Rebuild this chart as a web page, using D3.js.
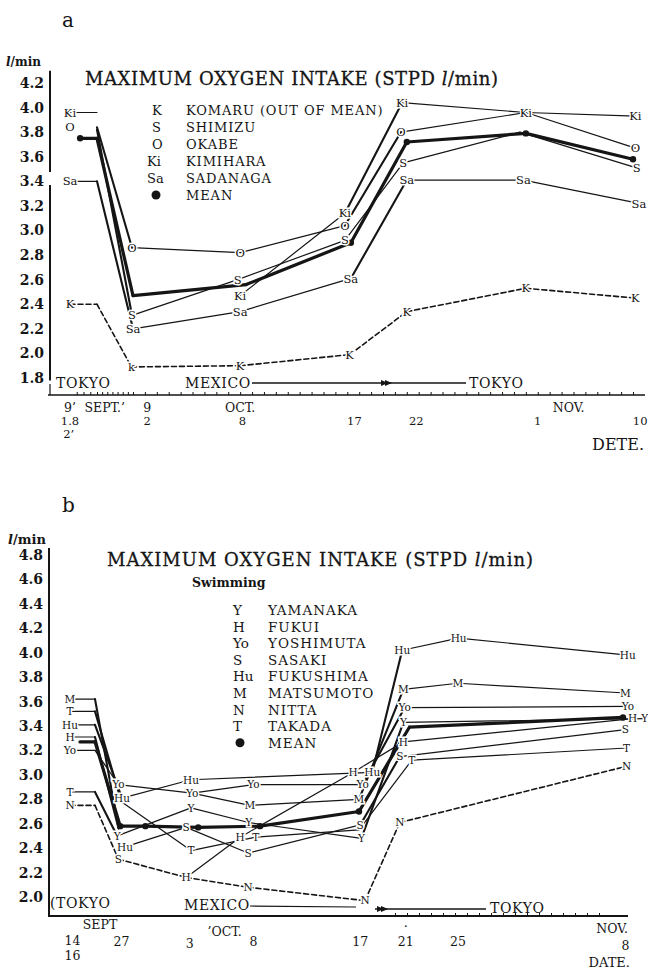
<!DOCTYPE html>
<html><head><meta charset="utf-8">
<script src="https://cdn.jsdelivr.net/npm/d3@7"></script>
<style>
body{margin:0;background:#fff;}
svg{display:block;background:#fff;}
</style></head><body>
<svg id="c" width="648" height="970"></svg>
<script>
// ================= DATA : panel a (days counted from Oct 1) =================
const aYTicks=[1.8,2.0,2.2,2.4,2.6,2.8,3.0,3.2,3.4,3.6,3.8,4.0,4.2];
const aK_days=[-13,-9,-2.3,7,16.2,21,31,40.2];
const aK_vals=[2.40,2.40,1.89,1.90,1.99,2.34,2.53,2.45];
const aK_labs=["K","","k","K","K","K","K","K"];
const aS_days=[-9,-2.2,6.8,15.8,20.7,30.5,40.3];
const aS_vals=[3.82,2.31,2.60,2.92,3.55,3.80,3.51];
const aS_labs=["","S","S","S","S","","S"];
const aO_days=[-13,-11,-9,-2.2,7,15.8,20.5,31,40.2];
const aO_vals=[3.84,null,3.84,2.86,2.82,3.04,3.80,3.96,3.67];
const aO_labs=["O","","","O","O","O","O","","O"];
const aKi_days=[-13,-9,-2,7,15.8,20.6,31,40.2];
const aKi_vals=[3.96,3.96,null,2.47,3.14,4.04,3.96,3.93];
const aKi_labs=["Ki","","","Ki","Ki","Ki","Ki","Ki"];
const aSa_days=[-13,-9,-2,7,16.3,21,30.8,40.5];
const aSa_vals=[3.40,3.40,2.20,2.34,2.61,3.41,3.41,3.22];
const aSa_labs=["Sa","","Sa","Sa","Sa","Sa","Sa","Sa"];
const aMean_days=[-11.5,-9,-2,7.5,16.3,21,31,40];
const aMean_vals=[3.75,3.75,2.47,2.56,2.90,3.72,3.79,3.58];
const aMean_dots=[1,0,0,0,1,1,1,1];
const aLegendKeys=["K","S","O","Ki","Sa","●"];
const aLegendNames=["KOMARU (OUT OF MEAN)","SHIMIZU","OKABE","KIMIHARA","SADANAGA","MEAN"];
const aXLabels=[["9’",-13,0],["1.8",-13,1],["2’",-13.2,2],["SEPT.’",-7.5,0],["9",-0.8,0],["2",-0.8,1],
  ["OCT.",7,0],["8",7.2,1],["17",16.6,1],["22",21.8,1],["1",32,1],["NOV.",34.6,0],["10",40.6,1]];

// ================= DATA : panel b =================
const bYTicks=[2.0,2.2,2.4,2.6,2.8,3.0,3.2,3.4,3.6,3.8,4.0,4.2,4.4,4.6,4.8];
const bY_days=[-17,-16,-4.9,2,6.8,16.2,19.7,39.8];
const bY_vals=[2.86,2.86,2.50,2.73,2.61,2.48,3.43,3.46];
const bY_labs=["T","","Y","Y","Y","Y","Y","Y"];
const bH_days=[-17,-16,-4.2,-3,1.6,6.1,15.5,19.7,38.8];
const bH_vals=[3.31,3.31,2.56,null,2.16,2.49,3.02,3.27,3.46];
const bH_labs=["H","","","","H","H","H","H","H"];
const bYo_days=[-17,-16,-4.3,2.1,7.2,16.3,19.8,38.4];
const bYo_vals=[3.20,3.20,2.92,2.85,2.92,2.92,3.55,3.56];
const bYo_labs=["Yo","","Yo","Yo","Yo","Yo","Yo","Yo"];
const bS_days=[-3.5,1.6,6.75,16.1,19.4,38.2];
const bS_vals=[2.41,2.57,2.36,2.59,3.15,3.37];
const bS_labs=["Hu","S","S","S","S","S"];
const bHu_days=[-17,-16,-3.75,2,17.1,19.6,24.3,38.4];
const bHu_vals=[3.41,3.41,2.81,2.96,3.02,4.02,4.12,3.98];
const bHu_labs=["Hu","","Hu","Hu","Hu","Hu","Hu","Hu"];
const bM_days=[-17,-16,-4.3,-3,2.1,6.9,16,19.7,24.25,38.2];
const bM_vals=[3.62,3.62,2.57,null,2.85,2.75,2.80,3.70,3.75,3.67];
const bM_labs=["M","","","","","M","M","M","M","M"];
const bN_days=[-17,-16,-4.3,1.6,6.75,16.5,19.4,38.3];
const bN_vals=[2.75,2.75,2.31,2.16,2.08,1.97,2.61,3.07];
const bN_labs=["N","","S","","N","N","N","N"];
const bT_days=[-17,-16,-3.8,2,7.4,16,20.4,38.3];
const bT_vals=[3.52,3.52,2.78,2.38,2.49,2.55,3.12,3.22];
const bT_labs=["T","","","T","T","","T","T"];
const bMean_days=[-16.6,-16,-3.9,-1.8,2.6,7.75,16,20.2,38];
const bMean_vals=[3.27,3.27,2.58,2.58,2.57,2.58,2.70,3.39,3.47];
const bMean_dots=[0,0,1,1,1,1,1,0,1];
const bLegendKeys=["Y","H","Yo","S","Hu","M","N","T","●"];
const bLegendNames=["YAMANAKA","FUKUI","YOSHIMUTA","SASAKI","FUKUSHIMA","MATSUMOTO","NITTA","TAKADA","MEAN"];
const bXLabels=[["SEPT",-13.5,929],["14",-16.9,945],["16",-16.9,960],["27",-3.8,946],["3",1.9,948],["’OCT.",4.8,936],
  ["8",7.2,946],["17",16.1,946],["21",19.9,946],["25",24.25,946],["NOV.",37.1,933],["8",38.2,950]];

// ================= RENDER =================
const F='"DejaVu Serif","Liberation Serif",serif';
const ink='#151515';
const svg=d3.select("#c");

function mk(days,vals,labs,opt){return Object.assign({days,vals,labs},opt||{});}

function drawSeries(g,x,y,series,labSize){
  const segs=[],labels=[],dots=[];
  series.forEach(s=>{
    const pts=s.days.map((d,i)=>({d,v:s.vals[i],lab:s.labs?s.labs[i]:"",dot:s.dots?s.dots[i]:0}));
    for(let i=0;i<pts.length-1;i++){
      const p=pts[i],q=pts[i+1];
      if(p.v==null||q.v==null) continue;
      const x1=x(p.d),y1=y(p.v),x2=x(q.d),y2=y(q.v);
      const steep=Math.abs(y2-y1)>1.5*Math.abs(x2-x1);
      segs.push({x1,y1,x2,y2,w:s.mean?3.2:(s.dash?1.6:(steep?2.1:1.2)),dash:s.dash||null});
    }
    pts.forEach(p=>{
      if(p.v==null) return;
      if(p.lab) labels.push({x:x(p.d),y:y(p.v),t:p.lab});
      if(p.dot) dots.push({x:x(p.d),y:y(p.v)});
    });
  });
  g.append("g").selectAll("line").data(segs).join("line")
    .attr("x1",d=>d.x1).attr("y1",d=>d.y1).attr("x2",d=>d.x2).attr("y2",d=>d.y2)
    .attr("stroke",ink).attr("stroke-width",d=>d.w).attr("stroke-linecap","round")
    .attr("stroke-dasharray",d=>d.dash);
  g.append("g").selectAll("circle").data(dots).join("circle")
    .attr("cx",d=>d.x).attr("cy",d=>d.y).attr("r",3.2).attr("fill",ink);
  g.append("g").selectAll("text").data(labels).join("text")
    .attr("x",d=>d.x).attr("y",d=>d.y).attr("dy","0.36em").attr("text-anchor","middle")
    .attr("font-family",F).attr("font-size",labSize).attr("fill",ink)
    .attr("stroke","#fff").attr("stroke-width",3).attr("paint-order","stroke")
    .text(d=>d.t);
}

function yAxis(g,y,ticks,axX){
  const gg=g.append("g").attr("transform",`translate(${axX},0)`)
    .call(d3.axisLeft(y).tickValues(ticks).tickSize(0).tickPadding(6).tickFormat(d3.format(".1f")));
  gg.select(".domain").remove();
  gg.selectAll("text").attr("font-family",F).attr("font-size",14).attr("font-weight","bold").attr("fill",ink);
}

function txt(g,x,y,t,size,opt){
  opt=opt||{};
  const e=g.append("text").attr("x",x).attr("y",y).attr("font-family",F).attr("font-size",size).attr("fill",ink)
    .attr("text-anchor",opt.anchor||"start");
  if(opt.ls) e.attr("letter-spacing",opt.ls);
  if(opt.bold) e.attr("font-weight","bold");
  e.text(t);
  return e;
}

function title(g,x,y,pre,gap,len){
  const e=g.append("text").attr("x",x).attr("y",y).attr("font-family",F).attr("font-size",18).attr("fill",ink)
    .attr("stroke",ink).attr("stroke-width",0.3)
    .attr("textLength",len).attr("lengthAdjust","spacing");
  e.append("tspan").text(pre+gap);
  e.append("tspan").attr("font-style","italic").text("l");
  e.append("tspan").text("/min)");
}

function arrow(g,x,y){
  g.append("path").attr("d",`M${x-7},${y-3}L${x},${y}L${x-7},${y+3}Z`).attr("fill",ink);
  g.append("path").attr("d",`M${x-3},${y-3}L${x+4},${y}L${x-3},${y+3}Z`).attr("fill",ink);
}

// ---------- panel a ----------
{
  const g=svg.append("g");
  const x=d3.scaleLinear().domain([-13,-9,-2,40]).range([70,97,133,633]);
  const y=d3.scaleLinear().domain([1.8,4.2]).range([378,83]);
  txt(g,62,27,"a",20);
  const lm=g.append("text").attr("x",6).attr("y",66).attr("font-family",F).attr("font-size",12).attr("font-weight","bold").attr("fill",ink);
  lm.append("tspan").attr("font-style","italic").text("l");
  lm.append("tspan").text("/min");
  yAxis(g,y,aYTicks,50);
  g.append("line").attr("x1",50).attr("x2",50).attr("y1",y(4.3)).attr("y2",172).attr("stroke",ink).attr("stroke-width",2);
  g.append("line").attr("x1",50).attr("x2",50).attr("y1",185).attr("y2",y(1.78)).attr("stroke",ink).attr("stroke-width",2);
  g.append("line").attr("x1",48).attr("x2",645).attr("y1",395).attr("y2",395).attr("stroke",ink).attr("stroke-width",1.6);
  g.append("g").attr("transform","translate(0,395)")
    .call(d3.axisTop(x).tickValues(d3.range(-12,41,1)).tickSize(3).tickFormat(""))
    .call(s=>{s.select(".domain").remove();s.selectAll("line").attr("stroke",ink).attr("stroke-width",1);});
  g.append("line").attr("x1",50).attr("x2",50).attr("y1",384).attr("y2",395).attr("stroke",ink).attr("stroke-width",1.2);
  const rowsA=[412,425,438];
  aXLabels.forEach(([t,d,r])=>txt(g,x(d),rowsA[r],t,r===0?12.5:11.5,{anchor:"middle"}));
  txt(g,644,450,"DETE.",16,{anchor:"end"});
  txt(g,56,388,"TOKYO",14,{ls:0.6});
  txt(g,185,388,"MEXICO",14,{ls:0.6});
  g.append("line").attr("x1",252).attr("x2",466).attr("y1",383).attr("y2",383).attr("stroke",ink).attr("stroke-width",1.3);
  arrow(g,388,383);
  txt(g,469,388,"TOKYO",14,{ls:0.6});
  title(g,85,85,"MAXIMUM  OXYGEN  INTAKE  (STPD  ","",413);
  aLegendKeys.forEach((k,i)=>{
    const yy=115+i*17;
    if(k==="●") g.append("circle").attr("cx",156).attr("cy",yy-5).attr("r",4.5).attr("fill",ink);
    else txt(g,k.length>1?147:152,yy,k,13);
    txt(g,186,yy,aLegendNames[i],13,{ls:0.9});
  });
  drawSeries(g,x,y,[
    mk(aK_days,aK_vals,aK_labs,{dash:"5,3"}),
    mk(aSa_days,aSa_vals,aSa_labs),
    mk(aS_days,aS_vals,aS_labs),
    mk(aO_days,aO_vals,aO_labs),
    mk(aKi_days,aKi_vals,aKi_labs),
    {days:aMean_days,vals:aMean_vals,labs:null,dots:aMean_dots,mean:true}
  ],11.5);
}

// ---------- panel b ----------
{
  const g=svg.append("g");
  const x=d3.scaleLinear().domain([-17,-16,-4,38]).range([70,95,119,623]);
  const y=d3.scaleLinear().domain([2.0,4.8]).range([897,555]);
  txt(g,62,512,"b",20);
  const lm=g.append("text").attr("x",8).attr("y",544).attr("font-family",F).attr("font-size",13).attr("font-weight","bold").attr("fill",ink);
  lm.append("tspan").attr("font-style","italic").text("l");
  lm.append("tspan").text("/min");
  yAxis(g,y,bYTicks,49);
  g.append("line").attr("x1",49).attr("x2",49).attr("y1",548).attr("y2",916).attr("stroke",ink).attr("stroke-width",2);
  g.append("line").attr("x1",48).attr("x2",628).attr("y1",916).attr("y2",916).attr("stroke",ink).attr("stroke-width",1.8);
  g.append("g").attr("transform","translate(0,916)")
    .call(d3.axisTop(x).tickValues(d3.range(19,37,1)).tickSize(3).tickFormat(""))
    .call(s=>{s.select(".domain").remove();s.selectAll("line").attr("stroke",ink).attr("stroke-width",1);});
  bXLabels.forEach(([t,d,yy])=>txt(g,x(d),yy,t,12.5,{anchor:"middle"}));
  txt(g,x(19.9),931,"·",13,{anchor:"middle"});
  txt(g,630,967,"DATE.",13,{anchor:"end"});
  txt(g,50,908,"(TOKYO",14,{ls:0.6});
  txt(g,184,910,"MEXICO",14,{ls:0.6});
  g.append("line").attr("x1",250).attr("x2",356).attr("y1",906).attr("y2",907).attr("stroke",ink).attr("stroke-width",1.2);
  g.append("line").attr("x1",375).attr("x2",486).attr("y1",909).attr("y2",909).attr("stroke",ink).attr("stroke-width",1.3);
  arrow(g,384,909);
  txt(g,490,913,"TOKYO",14,{ls:0.6});
  title(g,107,566,"MAXIMUM  OXYGEN  INTAKE  (STPD","     ",426);
  g.append("text").attr("x",192).attr("y",587).attr("font-family",F).attr("font-size",12.5).attr("font-weight","bold").attr("fill",ink).text("Swimming");
  bLegendKeys.forEach((k,i)=>{
    const yy=615+i*16.6;
    if(k==="●") g.append("circle").attr("cx",240).attr("cy",yy-5).attr("r",4.5).attr("fill",ink);
    else txt(g,233,yy,k,13.5);
    txt(g,268,yy,bLegendNames[i],13.5,{ls:1});
  });
  drawSeries(g,x,y,[
    mk(bN_days,bN_vals,bN_labs,{dash:"5,3"}),
    mk(bT_days,bT_vals,bT_labs),
    mk(bS_days,bS_vals,bS_labs),
    mk(bH_days,bH_vals,bH_labs),
    mk(bY_days,bY_vals,bY_labs),
    mk(bYo_days,bYo_vals,bYo_labs),
    mk(bM_days,bM_vals,bM_labs),
    mk(bHu_days,bHu_vals,bHu_labs),
    {days:bMean_days,vals:bMean_vals,labs:null,dots:bMean_dots,mean:true}
  ],10.5);
}
</script>
</body></html>
